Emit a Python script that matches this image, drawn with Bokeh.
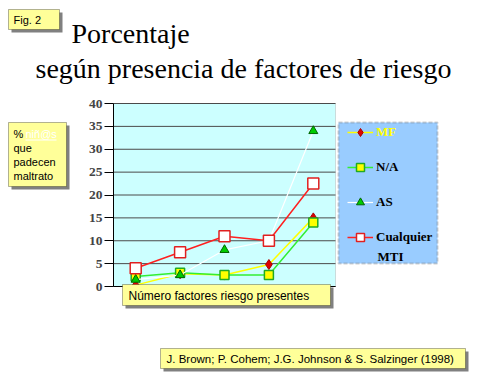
from bokeh.plotting import figure
from bokeh.models import (Label, BoxAnnotation, Legend, LegendItem, FixedTicker,
                          ColumnDataSource, Range1d)
from bokeh.embed import file_html
from bokeh.resources import INLINE

# ---- data ----
categories = [0, 1, 2, 3, 4]
x_tick_labels = ["1", "2", "3", "4", "5"]
mf = [0.3, 2.8, 2.5, 4.8, 15]
na = [2.2, 3, 2.5, 2.5, 14]
as_ = [1.5, 2.5, 8, 10, 34]
mti = [4, 7.5, 11, 10, 22.5]
y_ticks = [0, 5, 10, 15, 20, 25, 30, 35, 40]

title1 = "Porcentaje"
title2 = "según presencia de factores de riesgo"
xlabel = "Número factores riesgo presentes"
citation = "J. Brown; P. Cohem; J.G. Johnson & S. Salzinger (1998)"
legend_labels = ["MF", "N/A", "AS", "Cualquier", "MTI"]

# canvas / plot-area geometry (pixels)
W, H = 470, 375
PL, PR, PT, PB = 113, 335, 103, 286
x0, x1 = -0.5, 4.5
y0, y1 = 0, 40
kx = (PR - PL) / (x1 - x0)
ky = (PB - PT) / (y1 - y0)

p = figure(width=W, height=H, min_border=0,
           x_range=Range1d(x0 - PL / kx, x1 + (W - PR) / kx),
           y_range=Range1d(y0 - (H - PB) / ky, y1 + PT / ky),
           output_backend="svg", toolbar_location=None, tools="")
p.background_fill_color = "white"
p.border_fill_color = "white"
p.outline_line_color = None
p.xgrid.visible = False
p.ygrid.visible = False

def sx(X):
    return X

def sy(Y):
    return H - Y

# plot-area background
p.add_layout(BoxAnnotation(left=x0, right=x1, bottom=y0, top=y1,
                           fill_color="#CCFFFF", fill_alpha=1,
                           line_color="#8a8a8a", line_width=1, level="underlay"))
# horizontal grid lines at y ticks
p.segment(x0=[x0] * len(y_ticks), x1=[x1] * len(y_ticks), y0=y_ticks, y1=y_ticks,
          line_color="#4a4a4a", line_width=1)

yax = p.yaxis[0]
yax.fixed_location = x0
yax.bounds = (y0, y1)
yax.ticker = FixedTicker(ticks=y_ticks)
yax.axis_line_color = "black"
yax.major_tick_out = 9
yax.major_tick_in = 0
yax.minor_tick_line_color = None
yax.major_label_text_font = "Liberation Serif"
yax.major_label_text_font_style = "bold"
yax.major_label_text_font_size = "13.5px"
yax.major_label_standoff = 2

xax = p.xaxis[0]
xax.fixed_location = y0
xax.bounds = (x0, x1)
xax.ticker = FixedTicker(ticks=categories)
xax.major_label_overrides = {c: l for c, l in zip(categories, x_tick_labels)}
xax.axis_line_color = "black"
xax.major_tick_out = 5
xax.major_tick_in = 0
xax.minor_tick_line_color = None
xax.major_label_text_font = "Liberation Serif"
xax.major_label_text_font_style = "bold"
xax.major_label_text_font_size = "13px"
xax.major_label_standoff = 6

src = ColumnDataSource(dict(x=categories, mf=mf, na=na, as_=as_, mti=mti))

# series drawn in the original order: MF, N/A, AS, MTI
l_mf = p.line("x", "mf", source=src, line_color="#FFFF00", line_width=1.5)
m_mf = p.scatter("x", "mf", source=src, marker="diamond", size=10,
                 fill_color="#DD0000", line_color="#AA0000", line_width=1)
l_na = p.line("x", "na", source=src, line_color="#33EE33", line_width=1.5)
m_na = p.scatter("x", "na", source=src, marker="square", size=9,
                 fill_color="#FFFF00", line_color="#22AA22", line_width=1.5)
l_as = p.line("x", "as_", source=src, line_color="white", line_width=1.2)
m_as = p.scatter("x", "as_", source=src, marker="triangle", size=9,
                 fill_color="#00CC00", line_color="#006600", line_width=1)
l_mti = p.line("x", "mti", source=src, line_color="#FF2020", line_width=1.5)
m_mti = p.scatter("x", "mti", source=src, marker="square", size=11,
                  fill_color="white", line_color="#E02020", line_width=1.5)

# ---- legend background ----
p.add_layout(BoxAnnotation(left=sx(338), right=sx(437), top=sy(122), bottom=sy(263),
                           left_units="screen", right_units="screen",
                           top_units="screen", bottom_units="screen",
                           fill_color="#99CCFF", fill_alpha=1,
                           line_color="#666666", line_width=2, line_dash="4 2",
                           level="annotation"))

def mk_legend(items, color):
    return Legend(items=items, orientation="vertical",
                  background_fill_alpha=0, border_line_color=None,
                  label_text_font="Liberation Serif", label_text_font_style="bold",
                  label_text_font_size="13px", label_text_color=color,
                  glyph_width=26, glyph_height=20, label_height=20,
                  label_standoff=3, spacing=15, padding=0, margin=0)

leg1 = mk_legend([LegendItem(label=legend_labels[0], renderers=[l_mf, m_mf])], "#FFFF00")
leg1.location = (sx(347), sy(142))
leg2 = mk_legend([LegendItem(label=legend_labels[1], renderers=[l_na, m_na]),
                  LegendItem(label=legend_labels[2], renderers=[l_as, m_as]),
                  LegendItem(label=legend_labels[3], renderers=[l_mti, m_mti])],
                 "black")
leg2.location = (sx(347), sy(247))
p.add_layout(leg1)
p.add_layout(leg2)

def sbox(l, t, r, b, color, line=None, lw=1):
    p.add_layout(BoxAnnotation(left=sx(l), right=sx(r), top=sy(t), bottom=sy(b),
                               left_units="screen", right_units="screen",
                               top_units="screen", bottom_units="screen",
                               fill_color=color, fill_alpha=1,
                               line_color=line, line_width=lw, level="overlay"))

def shadow_box(l, t, r, b, off=3):
    sbox(l + off, t + off, r + off, b + off, "#808080")
    sbox(l, t, r, b, "#FFFF99", line="black")

def txt(text, X, Y, size, font="Liberation Sans", color="black", style="normal",
        baseline="middle"):
    p.add_layout(Label(x=sx(X), y=sy(Y), x_units="screen", y_units="screen",
                       text=text, text_font=font, text_font_size=size,
                       text_color=color, text_font_style=style,
                       text_baseline=baseline, level="overlay"))

txt(legend_labels[4], 377, 256, "13px", font="Liberation Serif", style="bold")

shadow_box(8, 9, 59, 29)
txt("Fig. 2", 13, 19.5, "11px")

shadow_box(8, 122, 66, 186)
txt("%", 13, 133, "11px")
txt("niñ@s", 25, 133, "11px", color="white")
sbox(25, 139, 56, 140, "white")
txt("que", 13, 147, "11px")
txt("padecen", 13, 161, "11px")
txt("maltrato", 13, 175, "11px")

shadow_box(122, 284, 330, 305)
txt(xlabel, 128, 295, "12px")

shadow_box(160, 348, 465, 368)
txt(citation, 166, 358, "11.5px")

txt(title1, 71, 33, "28px", font="Liberation Serif", baseline="alphabetic")
txt(title2, 35, 68, "28px", font="Liberation Serif", baseline="alphabetic")

open("out.html", "w").write(file_html(p, INLINE))
